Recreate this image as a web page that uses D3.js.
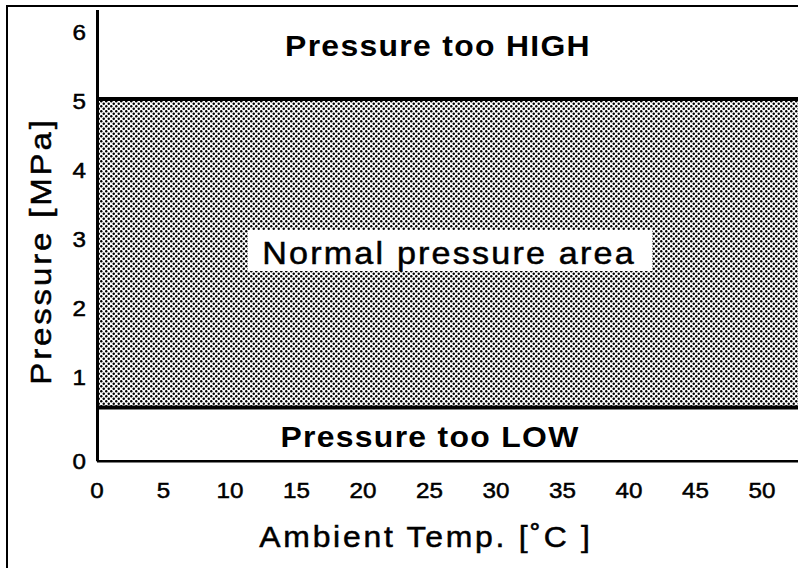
<!DOCTYPE html>
<html><head><meta charset="utf-8">
<script src="https://cdn.jsdelivr.net/npm/d3@7"></script>
<style>
html,body{margin:0;padding:0;background:#fff;}
svg{display:block;}
text{font-family:"Liberation Sans",Arial,Helvetica,sans-serif;fill:#000;}
.reg{stroke:#000;stroke-width:0.5px;}
</style></head>
<body>
<svg id="chart" width="798" height="568"></svg>
<script>
// ---- data ----
const xTicks = [0, 5, 10, 15, 20, 25, 30, 35, 40, 45, 50];
const yTicks = [1, 2, 3, 4, 5, 6];
const xDomain = [0, 53];
const yDomain = [-0.25, 6.29];
const pressureHigh = 5.0;   // MPa upper limit
const pressureLow = 0.53;   // MPa lower limit
const zoneLabels = ["Pressure too HIGH", "Normal pressure area", "Pressure too LOW"];
const xTitle = "Ambient Temp. [\u02DAC ]";
const yTitle = "Pressure [MPa]";

// ---- layout ----
const SX = 1.1; // horizontal glyph stretch of the original typeface
const svg = d3.select("#chart");
const x = d3.scaleLinear().domain(xDomain).range([97, 97 + 13.3 * (xDomain[1] - xDomain[0])]);
const y = d3.scaleLinear().domain([0, 6]).range([444, 30]);
const yTop = y(yDomain[1]), yBot = y(yDomain[0]);

// outer frame
svg.append("rect").attr("x", 7).attr("y", 6).attr("width", 820).attr("height", 600)
  .attr("fill", "none").attr("stroke", "#000").attr("stroke-width", 2);

// pattern
const defs = svg.append("defs");
const P = 5;
const pat = defs.append("pattern").attr("id", "dots").attr("patternUnits", "userSpaceOnUse")
  .attr("width", P).attr("height", P);
pat.append("rect").attr("width", P).attr("height", P).attr("fill", "#fff");
pat.append("circle").attr("cx", P / 4).attr("cy", P / 4).attr("r", 1.2).attr("fill", "#000");
pat.append("circle").attr("cx", 3 * P / 4).attr("cy", 3 * P / 4).attr("r", 1.2).attr("fill", "#000");

// normal zone
svg.append("rect")
  .attr("x", x(0)).attr("y", y(pressureHigh))
  .attr("width", x(xDomain[1]) - x(0)).attr("height", y(pressureLow) - y(pressureHigh))
  .attr("fill", "url(#dots)");

// limit lines
[pressureHigh, pressureLow].forEach(v => {
  svg.append("line").attr("x1", x(0)).attr("x2", x(xDomain[1]))
    .attr("y1", y(v)).attr("y2", y(v)).attr("stroke", "#000").attr("stroke-width", 4);
});

// axes lines
svg.append("line").attr("x1", x(0)).attr("x2", x(xDomain[1])).attr("y1", yBot).attr("y2", yBot)
  .attr("stroke", "#000").attr("stroke-width", 2.5);
svg.append("line").attr("x1", x(0) + 0.5).attr("x2", x(0) + 0.5).attr("y1", yTop).attr("y2", yBot)
  .attr("stroke", "#000").attr("stroke-width", 3);

function label(tx, ty, txt, opts) {
  return svg.append("text")
    .attr("transform", `translate(${tx},${ty})` + (opts.rot ? ` rotate(${opts.rot})` : "") + ` scale(${SX},1)`)
    .attr("text-anchor", opts.anchor || "middle")
    .attr("font-size", opts.size)
    .attr("class", opts.bold ? null : "reg")
    .attr("font-weight", opts.bold ? "bold" : null)
    .attr("letter-spacing", opts.ls || 0)
    .text(txt);
}

// x tick labels
xTicks.forEach(d => label(x(d), 498, d, {size: 22}));
// y tick labels
yTicks.forEach(d => label(86, y(d) + 10, d, {size: 22, anchor: "end"}));
label(86, yBot + 8, "0", {size: 22, anchor: "end"});

// zone labels
label(438, 56, zoneLabels[0], {size: 29, bold: true, ls: 1.2});
svg.append("rect").attr("x", 248).attr("y", 230).attr("width", 404).attr("height", 41).attr("fill", "#fff");
label(449, 264, zoneLabels[1], {size: 31, ls: 2.0});
label(430, 447, zoneLabels[2], {size: 29, bold: true, ls: 1.2});

// axis titles
label(426, 547, xTitle, {size: 29, ls: 2.5});
label(51, 251, yTitle, {size: 30, ls: 2.6, rot: -90});
</script>
</body></html>
